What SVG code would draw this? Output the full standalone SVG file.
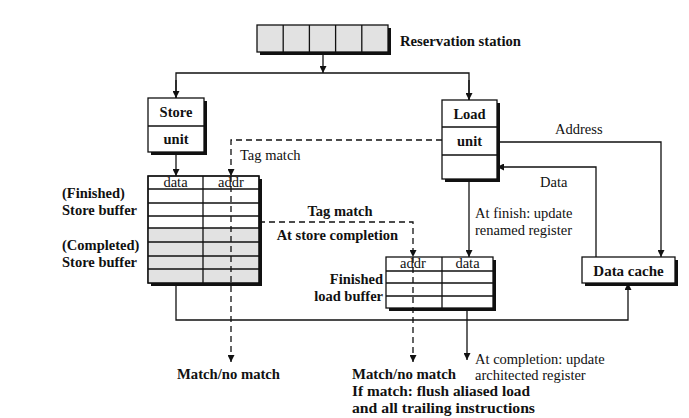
<svg xmlns="http://www.w3.org/2000/svg" width="689" height="418" viewBox="0 0 689 418">
<style>
text{font-family:"Liberation Serif","Times New Roman",serif;font-size:14.5px;fill:#111}
.b{font-weight:bold}
.box{fill:#fff;stroke:#111;stroke-width:1.3}
.sh{fill:#111}
.g{fill:#e2e2e2}
.ln{fill:none;stroke:#111;stroke-width:1.3}
.ds{fill:none;stroke:#111;stroke-width:1.3;stroke-dasharray:6,4}
</style>
<defs>
<marker id="ah" viewBox="0 0 10 10" refX="10" refY="5" markerWidth="7" markerHeight="7" markerUnits="userSpaceOnUse" orient="auto">
<path d="M0,0 L10,5 L0,10 z" fill="#111"/>
</marker>
</defs>
<rect width="689" height="418" fill="#fff"/>

<g id="reservation-station">
<rect class="sh" x="260" y="28" width="131" height="27"/>
<rect class="box g" x="257" y="25" width="131" height="27"/>
<path class="ln" d="M283.2,25 V52 M309.4,25 V52 M335.6,25 V52 M361.8,25 V52"/>
<text class="b" x="400" y="46" textLength="121" lengthAdjust="spacingAndGlyphs">Reservation station</text>
</g>

<g id="store-unit">
<rect class="sh" x="151" y="101" width="56" height="54"/>
<rect class="box" x="148" y="98" width="56" height="54"/>
<line class="ln" x1="148" y1="126" x2="204" y2="126"/>
<text class="b" x="176" y="117" text-anchor="middle">Store</text>
<text class="b" x="176" y="144" text-anchor="middle">unit</text>
</g>

<g id="load-unit">
<rect class="sh" x="445" y="103" width="55" height="79"/>
<rect class="box" x="442" y="100" width="55" height="79"/>
<path class="ln" d="M442,127 H497 M442,155 H497"/>
<text class="b" x="469.5" y="119" text-anchor="middle">Load</text>
<text class="b" x="469.5" y="146" text-anchor="middle">unit</text>
</g>

<g id="store-buffer">
<rect class="sh" x="151" y="179" width="111" height="107"/>
<rect class="box" x="148" y="176" width="111" height="107"/>
<rect class="g" x="148.6" y="228" width="109.8" height="54.4"/>
<path class="ln" d="M203,176 V283 M148,189 H259 M148,203 H259 M148,216 H259 M148,228 H259 M148,242 H259 M148,256 H259 M148,269 H259"/>
<rect class="ln" x="148" y="176" width="111" height="107"/>
<text x="175.5" y="187" text-anchor="middle">data</text>
<text x="231" y="187" text-anchor="middle">addr</text>
<text class="b" x="62" y="198">(Finished)</text>
<text class="b" x="62" y="215">Store buffer</text>
<text class="b" x="62" y="250">(Completed)</text>
<text class="b" x="62" y="267">Store buffer</text>
</g>

<g id="load-buffer">
<rect class="sh" x="389" y="260" width="107" height="51"/>
<rect class="box" x="386" y="257" width="107" height="51"/>
<path class="ln" d="M442,257 V308 M386,271 H493 M386,283 H493 M386,296 H493"/>
<text x="413" y="268" text-anchor="middle">addr</text>
<text x="467.5" y="268" text-anchor="middle">data</text>
<text class="b" x="383" y="284" text-anchor="end">Finished</text>
<text class="b" x="383" y="301" text-anchor="end">load buffer</text>
</g>

<g id="data-cache">
<rect class="sh" x="585" y="260" width="93" height="26"/>
<rect class="box" x="582" y="257" width="93" height="26"/>
<text class="b" x="628.5" y="275.5" text-anchor="middle" style="font-size:15px">Data cache</text>
</g>

<g id="connectors">
<line class="ln" x1="323" y1="55" x2="323" y2="73" marker-end="url(#ah)"/>
<path class="ln" d="M176,98 V73 H469 V100" />
<line class="ln" x1="176" y1="80" x2="176" y2="98" marker-end="url(#ah)"/>
<line class="ln" x1="469" y1="80" x2="469" y2="100" marker-end="url(#ah)"/>
<line class="ln" x1="176" y1="155" x2="176" y2="176" marker-end="url(#ah)"/>
<path class="ds" d="M442,140 H231 V176" marker-end="url(#ah)"/>
<line class="ds" x1="231" y1="176" x2="231" y2="362" marker-end="url(#ah)"/>
<text x="240" y="160">Tag match</text>
<path class="ln" d="M500,142 H661 V257" marker-end="url(#ah)"/>
<text x="555" y="134">Address</text>
<path class="ln" d="M596,257 V167 H497" marker-end="url(#ah)"/>
<text x="540" y="187">Data</text>
<line class="ln" x1="469" y1="182" x2="469" y2="257" marker-end="url(#ah)"/>
<text x="475" y="218">At finish: update</text>
<text x="475" y="235">renamed register</text>
<path class="ds" d="M259,222 H413 V257" marker-end="url(#ah)"/>
<line class="ds" x1="413" y1="257" x2="413" y2="362" marker-end="url(#ah)"/>
<text class="b" x="340" y="216" text-anchor="middle">Tag match</text>
<text class="b" x="398" y="240" text-anchor="end">At store completion</text>
<path class="ln" d="M176,286 V320 H628 V283" marker-end="url(#ah)"/>
<line class="ln" x1="467" y1="311" x2="467" y2="360" marker-end="url(#ah)"/>
<text x="475" y="364">At completion: update</text>
<text x="475" y="380">architected register</text>
<text class="b" x="177" y="379" textLength="103" lengthAdjust="spacingAndGlyphs">Match/no match</text>
<text class="b" x="352" y="379" textLength="104" lengthAdjust="spacingAndGlyphs">Match/no match</text>
<text class="b" x="352" y="396" textLength="178" lengthAdjust="spacingAndGlyphs">If match: flush aliased load</text>
<text class="b" x="352" y="413" textLength="183" lengthAdjust="spacingAndGlyphs">and all trailing instructions</text>
</g>
</svg>
